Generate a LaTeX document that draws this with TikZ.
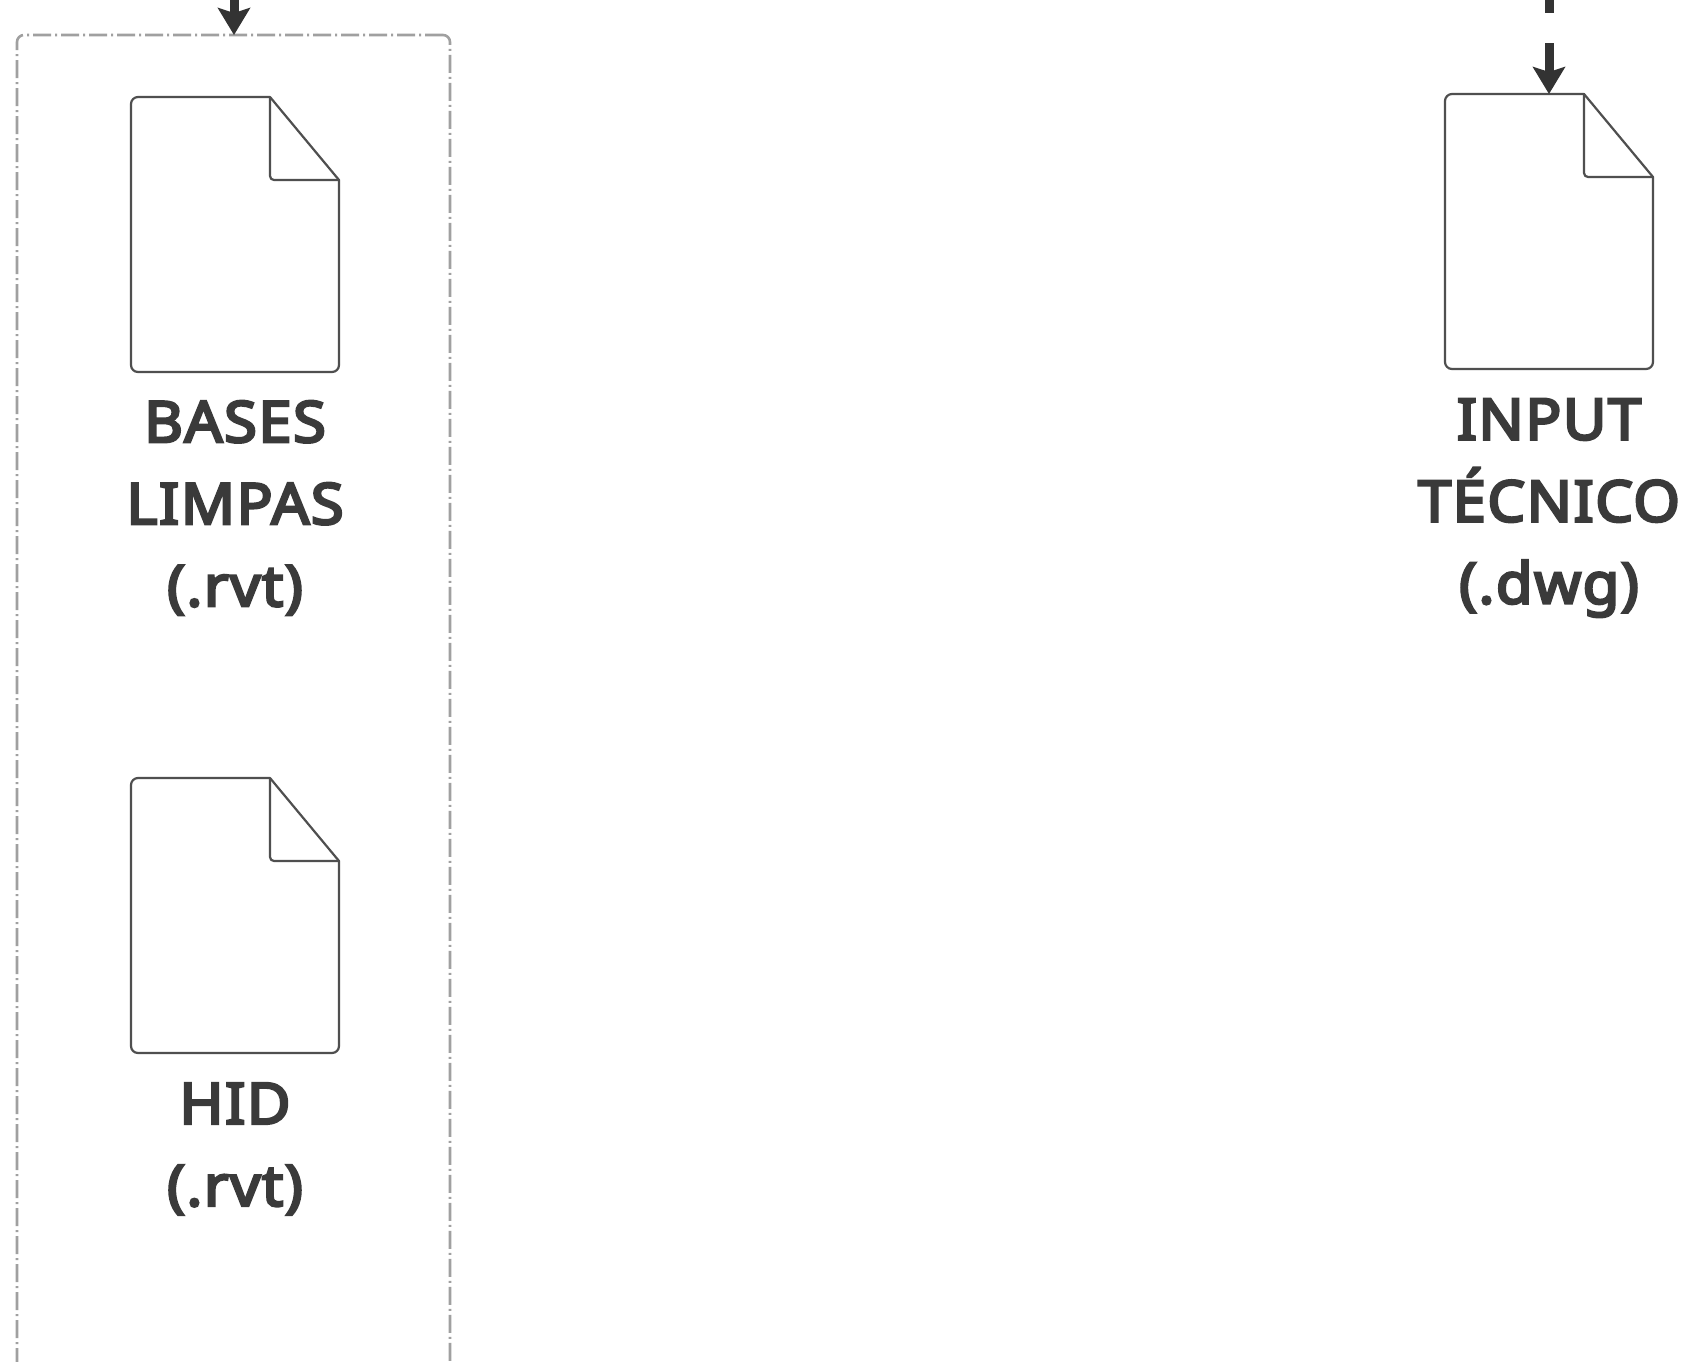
\documentclass[tikz,border=0pt]{standalone}
\usepackage{fontspec}
\setmainfont{Noto Sans}[FakeBold=4.5, FakeStretch=1.05, LetterSpace=2.5]
\usetikzlibrary{arrows.meta}
\definecolor{inkText}{HTML}{3A3A3A}
\definecolor{inkLine}{HTML}{4F4F4F}
\definecolor{inkArrow}{HTML}{333333}
\definecolor{inkFrame}{HTML}{A0A0A0}

\tikzset{
    docbox/.style={minimum width=208pt, minimum height=275pt, inner sep=0pt, outer sep=0pt},
    doclabel/.style={text=inkText, align=center, font=\fontsize{57}{82}\selectfont},
    frame/.style={draw=inkFrame, line width=2.6pt, rounded corners=7pt, inner sep=0pt, outer sep=0pt,
        dash pattern=on 18pt off 4pt on 2pt off 4pt},
    flow/.style={draw=inkArrow, line width=9pt, -{Stealth[length=27pt, width=32pt, inset=5pt]}},
}

% sheet with folded corner, on top of a docbox node
\newcommand{\docsheet}[1]{
    \begin{scope}[shift={(#1.north west)}, draw=inkLine, line width=2.2pt, line join=round]
        \draw[rounded corners=7pt] (0,137) -- (0,0) [sharp corners] -- (139,0) -- (208,83)
            [rounded corners=7pt] -- (208,275) -- (0,275) -- (0,137);
        \draw[rounded corners=4pt] (139,0) -- (139,83) -- (208,83);
    \end{scope}
}

\begin{document}
\begin{tikzpicture}[x=1pt, y=-1pt]

    \useasboundingbox[fill=white] (0,0) rectangle (1682,1361);

    % dashed frame, runs off the bottom of the page
    \node[frame, anchor=north west, minimum width=433pt, minimum height=1400pt] (inputs) at (17,35) {};

    % documents
    \node[docbox] (bases) at (235,234.5) {};
    \node[docbox] (hid) at (235,915.5) {};
    \node[docbox] (tecnico) at (1549,231.5) {};
    \docsheet{bases}
    \docsheet{hid}
    \docsheet{tecnico}

    % labels
    \node[doclabel] (baseslabel) at (235,508) {BASES\\LIMPAS\\(.rvt)};
    \node[doclabel] (hidlabel) at (235,1149) {HID\\(.rvt)};
    \node[doclabel] (tecnicolabel) at (1549,508) {INPUT\\TÉCNICO\\(.dwg)};

    % arrows coming in from above the page
    \coordinate (fromtop) at (234,-30);
    \coordinate (fromdash) at (1549,-47);
    \draw[flow] (fromtop) -- (inputs.north -| fromtop);
    \draw[flow, dash pattern=on 60pt off 30pt] (fromdash) -- (tecnico.north -| fromdash);

\end{tikzpicture}
\end{document}
